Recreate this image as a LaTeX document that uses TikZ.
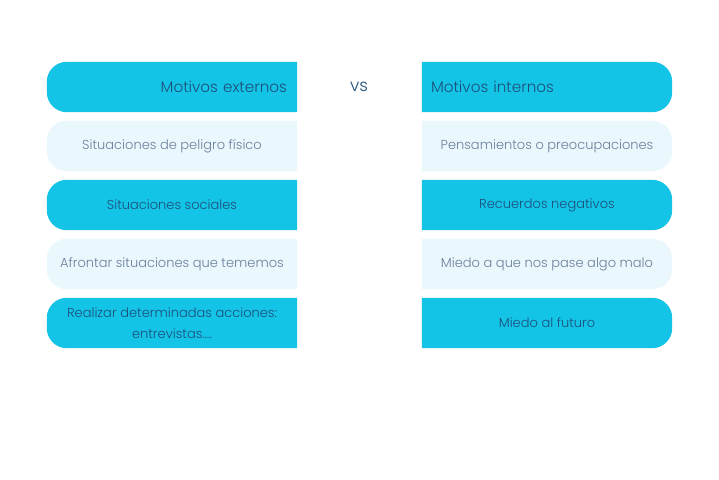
\documentclass[tikz,border=0pt]{standalone}
\usepackage{fontspec}
\setmainfont{Poppins}[UprightFont=* Light]
\usetikzlibrary{backgrounds}
\definecolor{boxA}{HTML}{14C4E6}
\definecolor{boxB}{HTML}{EAF7FD}
\definecolor{txtA}{HTML}{1D4F7C}
\definecolor{txtB}{HTML}{6B7F9A}
\newcommand{\leftbg}[2]{\fill[#2] (#1.north east) [rounded corners=20pt] -- (#1.north west) -- (#1.south west) [sharp corners] -- (#1.south east) -- cycle;}
\newcommand{\rightbg}[2]{\fill[#2] (#1.north west) [rounded corners=20pt] -- (#1.north east) -- (#1.south east) [sharp corners] -- (#1.south west) -- cycle;}
\begin{document}
\begin{tikzpicture}[x=1pt,y=-1pt,
  cell/.style={rectangle, minimum width=250pt, minimum height=50pt, inner sep=0pt, font=\fontsize{13}{21}\selectfont, align=center},
  head/.style={font=\fontsize{15.2}{21}\selectfont},
  darkcell/.style={cell, text=txtA},
  lightcell/.style={cell, text=txtB}]
\useasboundingbox (0,0) rectangle (719,479);
% left column
\node[darkcell, head, text width=230pt, align=right] (l1) at (172,87) {Motivos externos};
\node[lightcell] (l2) at (172,146) {Situaciones de peligro físico};
\node[darkcell] (l3) at (172,205) {Situaciones sociales};
\node[lightcell] (l4) at (172,264) {Afrontar situaciones que tememos};
\node[darkcell] (l5) at (172,323) {Realizar determinadas acciones:\\entrevistas....};
% right column
\node[darkcell, head, text width=232pt, align=left] (r1) at (547,87) {Motivos internos};
\node[lightcell] (r2) at (547,146) {Pensamientos o preocupaciones};
\node[darkcell] (r3) at (547,205) {Recuerdos negativos};
\node[lightcell] (r4) at (547,264) {Miedo a que nos pase algo malo};
\node[darkcell] (r5) at (547,323) {Miedo al futuro};
\node[text=txtA, font=\fontsize{17}{18}\selectfont] (vs) at (359,87) {vs};
\begin{scope}[on background layer]
\fill[white] (0,0) rectangle (719,479);
\leftbg{l1}{boxA}
\leftbg{l2}{boxB}
\leftbg{l3}{boxA}
\leftbg{l4}{boxB}
\leftbg{l5}{boxA}
\rightbg{r1}{boxA}
\rightbg{r2}{boxB}
\rightbg{r3}{boxA}
\rightbg{r4}{boxB}
\rightbg{r5}{boxA}
\end{scope}
\end{tikzpicture}
\end{document}
